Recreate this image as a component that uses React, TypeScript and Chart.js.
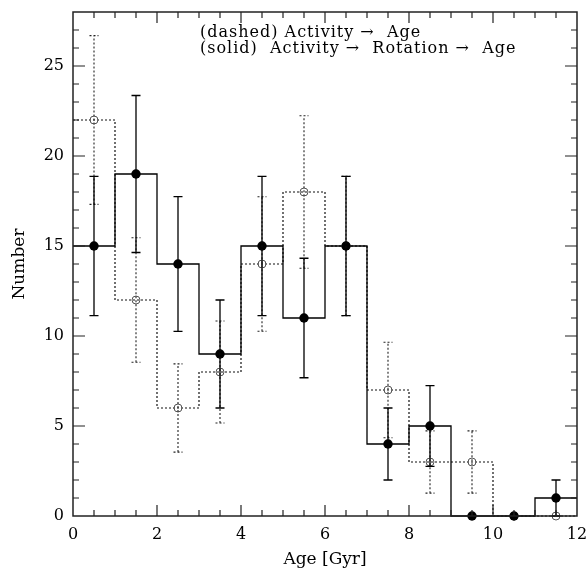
import React, { useEffect, useRef } from 'react';
import { Chart, registerables } from 'chart.js';
Chart.register(...registerables);

const binEdges = [0, 1, 2, 3, 4, 5, 6, 7, 8, 9, 10, 11, 12];
const binCenters = [0.5, 1.5, 2.5, 3.5, 4.5, 5.5, 6.5, 7.5, 8.5, 9.5, 10.5, 11.5];
const solidCounts = [15, 19, 14, 9, 15, 11, 15, 4, 5, 0, 0, 1];
const solidErrLow = [11.13, 14.64, 10.26, 6, 11.13, 7.68, 11.13, 2, 2.76, 0, 0, 0];
const solidErrHigh = [18.87, 23.36, 17.74, 12, 18.87, 14.32, 18.87, 6, 7.24, 0, 0, 2];
const dashedCounts = [22, 12, 6, 8, 14, 18, 15, 7, 3, 3, 0, 0];
const dashedErrLow = [17.31, 8.54, 3.55, 5.17, 10.26, 13.76, 11.13, 4.35, 1.27, 1.27, 0, 0];
const dashedErrHigh = [26.69, 15.46, 8.45, 10.83, 17.74, 22.24, 18.87, 9.65, 4.73, 4.73, 0, 0];
const xTickLabels = [0, 2, 4, 6, 8, 10, 12];
const yTickLabels = [0, 5, 10, 15, 20, 25];
const legendLines = ['(dashed) Activity \u2192  Age', '(solid)  Activity \u2192  Rotation \u2192  Age'];
const xTitle = 'Age [Gyr]';
const yTitle = 'Number';

const FONT = "'DejaVu Serif', serif";

const stepData = (counts: number[]) =>
  binEdges.map((x, i) => ({ x, y: counts[Math.min(i, counts.length - 1)] }));

export default function App() {
  const ref = useRef<HTMLCanvasElement | null>(null);
  useEffect(() => {
    document.body.style.margin = '0';
    const canvas = ref.current;
    if (!canvas) return;

    const errPlugin = {
      id: 'errbars',
      afterDatasetsDraw(chart: any) {
        const { ctx, scales } = chart;
        const xs = scales.x, ys = scales.y;
        const drawSet = (lo: number[], hi: number[], dashed: boolean) => {
          ctx.save();
          ctx.strokeStyle = dashed ? '#222' : '#000';
          ctx.lineWidth = dashed ? 1.1 : 1.3;
          ctx.setLineDash(dashed ? [2, 2] : []);
          binCenters.forEach((c, i) => {
            if (hi[i] === lo[i]) return;
            const px = xs.getPixelForValue(c);
            const y1 = ys.getPixelForValue(lo[i]);
            const y2 = ys.getPixelForValue(hi[i]);
            ctx.beginPath();
            ctx.moveTo(px, y1);
            ctx.lineTo(px, y2);
            ctx.moveTo(px - 4.5, y1);
            ctx.lineTo(px + 4.5, y1);
            ctx.moveTo(px - 4.5, y2);
            ctx.lineTo(px + 4.5, y2);
            ctx.stroke();
          });
          ctx.restore();
        };
        drawSet(dashedErrLow, dashedErrHigh, true);
        drawSet(solidErrLow, solidErrHigh, false);
      },
    };

    const framePlugin = {
      id: 'frame',
      afterDraw(chart: any) {
        const { ctx, chartArea: a, scales } = chart;
        const xs = scales.x, ys = scales.y;
        ctx.save();
        ctx.setLineDash([]);
        ctx.strokeStyle = '#222';
        ctx.lineWidth = 1.5;
        ctx.strokeRect(a.left, a.top, a.right - a.left, a.bottom - a.top);
        ctx.lineWidth = 1.2;
        ctx.beginPath();
        for (let v = 0.5; v < 12; v += 0.5) {
          const px = xs.getPixelForValue(v);
          const len = v % 2 === 0 ? 11 : 6;
          ctx.moveTo(px, a.bottom); ctx.lineTo(px, a.bottom - len);
          ctx.moveTo(px, a.top); ctx.lineTo(px, a.top + len);
        }
        for (let v = 1; v <= 27; v += 1) {
          const py = ys.getPixelForValue(v);
          const len = v % 5 === 0 ? 12 : 6;
          ctx.moveTo(a.left, py); ctx.lineTo(a.left + len, py);
          ctx.moveTo(a.right, py); ctx.lineTo(a.right - len, py);
        }
        ctx.stroke();
        // legend text
        ctx.fillStyle = '#000';
        ctx.font = `16px ${FONT}`;
        ctx.textBaseline = 'middle';
        ctx.textAlign = 'left';
        (ctx as any).letterSpacing = '1px';
        ctx.fillText(legendLines[0], a.left + 127, a.top + 21);
        ctx.fillText(legendLines[1], a.left + 127, a.top + 37);
        ctx.restore();
      },
    };

    const chart = new Chart(canvas, {
      type: 'scatter',
      data: {
        datasets: [
          {
            label: 'dashed',
            type: 'line',
            data: stepData(dashedCounts),
            stepped: true,
            borderColor: '#111',
            borderWidth: 1.2,
            borderDash: [2, 2],
            pointRadius: 0,
            fill: false,
            order: 4,
          } as any,
          {
            label: 'solid',
            type: 'line',
            data: stepData(solidCounts),
            stepped: true,
            borderColor: '#000',
            borderWidth: 1.3,
            pointRadius: 0,
            fill: false,
            order: 3,
          } as any,
          {
            label: 'dashed points',
            data: binCenters.map((x, i) => ({ x, y: dashedCounts[i] })),
            pointRadius: 4,
            pointBackgroundColor: 'rgba(255,255,255,0)',
            pointBorderColor: '#555',
            pointBorderWidth: 1,
            order: 2,
          },
          {
            label: 'solid points',
            data: binCenters.map((x, i) => ({ x, y: solidCounts[i] })),
            pointRadius: 4.7,
            pointBackgroundColor: '#000',
            pointBorderColor: '#000',
            pointBorderWidth: 0,
            order: 1,
          },
        ],
      },
      options: {
        animation: false,
        responsive: false,
        devicePixelRatio: 1,
        clip: false as any,
        layout: { padding: { left: 0, right: 11, top: 12, bottom: 0 } },
        plugins: { legend: { display: false }, tooltip: { enabled: false } },
        scales: {
          x: {
            type: 'linear',
            min: 0,
            max: 12,
            grid: { display: false, drawTicks: false },
            border: { display: false },
            afterBuildTicks: (s: any) => { s.ticks = xTickLabels.map((v) => ({ value: v })); },
            afterFit: (s: any) => { s.height = 56; s.paddingLeft = 0; s.paddingRight = 0; },
            ticks: { color: '#000', font: { family: FONT, size: 16 }, padding: 9, maxRotation: 0, autoSkip: false },
            title: { display: true, text: xTitle, color: '#000', font: { family: FONT, size: 17 }, padding: { top: 0, bottom: 2 } },
          },
          y: {
            type: 'linear',
            min: 0,
            max: 28,
            grid: { display: false, drawTicks: false },
            border: { display: false },
            afterBuildTicks: (s: any) => { s.ticks = yTickLabels.map((v) => ({ value: v })); },
            afterFit: (s: any) => { s.width = 73; s.paddingTop = 0; s.paddingBottom = 0; },
            ticks: { color: '#000', font: { family: FONT, size: 16 }, padding: 9, autoSkip: false },
            title: { display: true, text: yTitle, color: '#000', font: { family: FONT, size: 17 }, padding: { top: 9, bottom: 0 } },
          },
        },
      },
      plugins: [errPlugin, framePlugin],
    });
    return () => chart.destroy();
  }, []);
  return (
    <div style={{ width: 588, height: 572 }}>
      <canvas ref={ref} width={588} height={572} style={{ display: 'block' }} />
    </div>
  );
}
